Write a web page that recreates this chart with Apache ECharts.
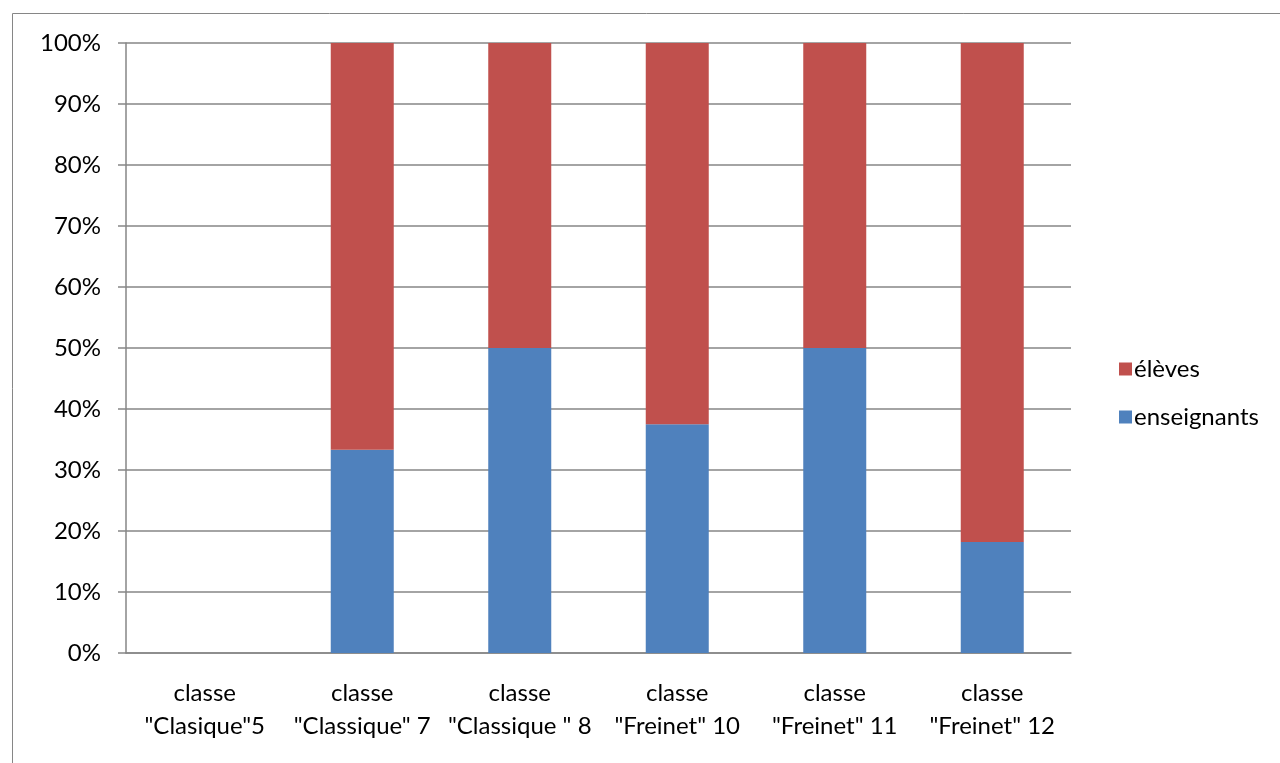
<!DOCTYPE html>
<html>
<head>
<meta charset="utf-8">
<script src="https://cdn.jsdelivr.net/npm/echarts@6/dist/echarts.min.js"></script>
<style>
  html, body { margin: 0; padding: 0; background: #fff; }
  #chart { width: 1280px; height: 763px; }
</style>
</head>
<body>
<div id="chart"></div>
<script>
  // categories and values (percent of each class)
  var classes = ['classe\n"Clasique"5', 'classe\n"Classique" 7', 'classe\n"Classique " 8',
    'classe\n"Freinet" 10', 'classe\n"Freinet" 11', 'classe\n"Freinet" 12']
  var enseignants = [null, 33.3, 50, 37.5, 50, 18.2]
  var eleves = [null, 66.7, 50, 62.5, 50, 81.8]

  var font = 'Lato, "Open Sans", sans-serif'
  var gray = '#868686'

  var chart = echarts.init(document.getElementById('chart'))
  chart.setOption({
    animation: false,
    textStyle: { fontFamily: font },
    graphic: [{
      type: 'rect',
      shape: { x: 12.5, y: 13.5, width: 1300, height: 800 },
      style: { fill: null, stroke: gray, lineWidth: 1 }
    }],
    grid: { left: 126, right: 209, top: 43, bottom: 110 },
    legend: {
      orient: 'vertical',
      left: 1114,
      top: 352,
      itemWidth: 13,
      itemHeight: 13,
      itemGap: 24,
      icon: 'rect',
      data: ['élèves', 'enseignants'],
      textStyle: { fontFamily: font, fontSize: 24, color: '#000', padding: [0, 0, 0, -3] }
    },
    xAxis: {
      type: 'category',
      data: classes,
      axisLine: { lineStyle: { color: gray, width: 1.5 } },
      axisTick: { length: 8, lineStyle: { color: gray, width: 1.5 } },
      axisLabel: { color: '#000', fontSize: 24, lineHeight: 33, margin: 24, interval: 0 }
    },
    yAxis: {
      type: 'value',
      min: 0,
      max: 100,
      interval: 10,
      axisLine: { show: true, lineStyle: { color: gray, width: 1.5 } },
      axisTick: { show: true, length: 8, lineStyle: { color: gray, width: 1.5 } },
      splitLine: { lineStyle: { color: gray, width: 1.5 } },
      axisLabel: { color: '#000', fontSize: 24, margin: 25, formatter: '{value}%' }
    },
    series: [{
      name: 'enseignants',
      type: 'bar',
      stack: 'total',
      barWidth: '40%',
      itemStyle: { color: '#4F81BD' },
      data: enseignants
    }, {
      name: 'élèves',
      type: 'bar',
      stack: 'total',
      barWidth: '40%',
      itemStyle: { color: '#C0504D' },
      data: eleves
    }]
  })
</script>
</body>
</html>
